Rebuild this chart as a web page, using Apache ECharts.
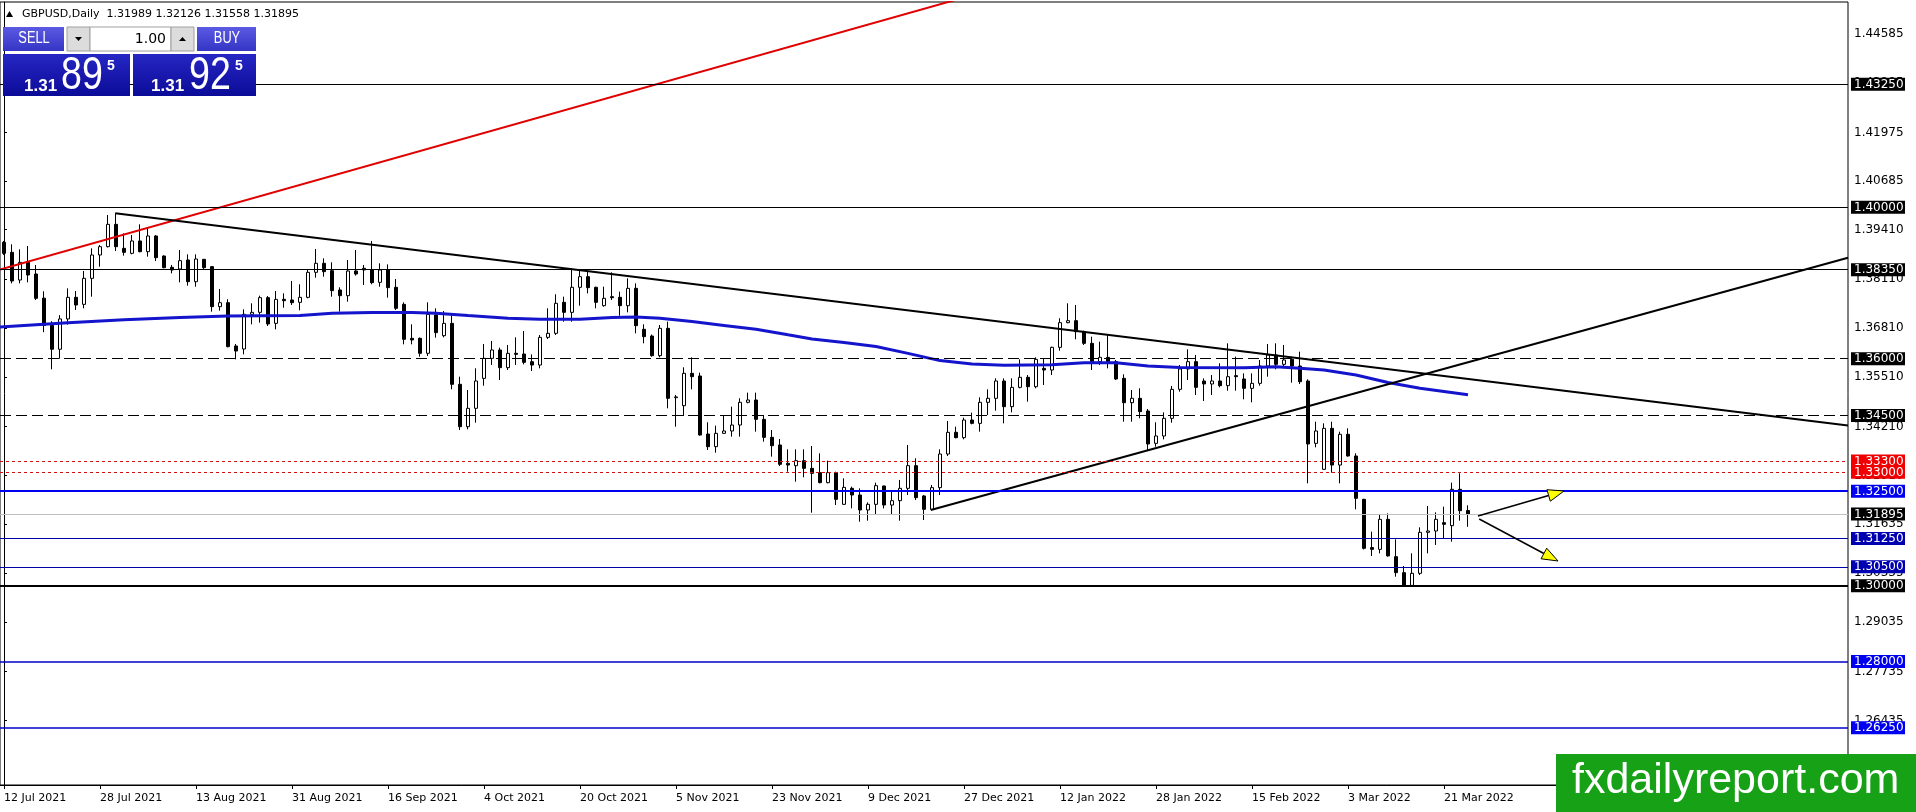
<!DOCTYPE html>
<html>
<head>
<meta charset="utf-8">
<title>GBPUSD,Daily</title>
<script src="https://cdn.jsdelivr.net/npm/echarts@6/dist/echarts.min.js"></script>
<style>
  html, body { margin: 0; padding: 0; background: #fff; }
  #main { width: 1916px; height: 812px; }
</style>
</head>
<body>
<div id="main"></div>
<script>
// daily bars, 12 Jul 2021 .. 24 Mar 2022
var opens = [
  1.39074, 1.38810, 1.38079, 1.38546, 1.38238, 1.37600, 1.36880, 1.36250, 1.37050, 1.37621,
  1.37436, 1.38123, 1.38740, 1.38960, 1.39550, 1.38916, 1.38784, 1.39110, 1.38828, 1.39242,
  1.38713, 1.38414, 1.38370, 1.38608, 1.38035, 1.38625, 1.38432, 1.37375, 1.37480, 1.36336,
  1.36256, 1.37172, 1.37225, 1.37613, 1.36934, 1.37569, 1.37551, 1.37489, 1.37621, 1.38282,
  1.38520, 1.38326, 1.37815, 1.37665, 1.38317, 1.38388, 1.38344, 1.38018, 1.38344, 1.37886,
  1.37436, 1.36538, 1.36538, 1.36142, 1.37155, 1.36608, 1.36934, 1.35323, 1.34204, 1.34689,
  1.35480, 1.36010, 1.36230, 1.35763, 1.36142, 1.36124, 1.35921, 1.35833, 1.36564, 1.36670,
  1.37489, 1.37225, 1.37886, 1.38167, 1.37886, 1.37401, 1.37639, 1.37621, 1.37401, 1.37859,
  1.36776, 1.36600, 1.36080, 1.36802, 1.34970, 1.34759, 1.35613, 1.35543, 1.34010, 1.33676,
  1.34028, 1.34090, 1.34248, 1.34847, 1.34909, 1.34398, 1.33922, 1.33720, 1.33235, 1.33174,
  1.33306, 1.33103, 1.32989, 1.32725, 1.32989, 1.32152, 1.32575, 1.32399, 1.32003, 1.32152,
  1.32637, 1.32134, 1.32249, 1.32575, 1.33174, 1.32373, 1.32020, 1.32593, 1.33482, 1.34055,
  1.33914, 1.34380, 1.34292, 1.34847, 1.34953, 1.35411, 1.34733, 1.35243, 1.35508, 1.35261,
  1.35745, 1.35701, 1.36300, 1.36952, 1.37005, 1.36714, 1.36406, 1.35922, 1.36036, 1.35922,
  1.35481, 1.34838, 1.34953, 1.34618, 1.33764, 1.33958, 1.34424, 1.35190, 1.35728, 1.35922,
  1.35411, 1.35332, 1.35411, 1.35288, 1.35552, 1.35464, 1.35217, 1.35349, 1.35807, 1.36098,
  1.35851, 1.35983, 1.35807, 1.35411, 1.33764, 1.33077, 1.34160, 1.33191, 1.34002, 1.33429,
  1.32284, 1.31010, 1.30963, 1.31756, 1.30770, 1.30347, 1.30010, 1.30329, 1.31413, 1.31448,
  1.31668, 1.31589, 1.32549, 1.31989
];
var highs = [
  1.39110, 1.39022, 1.38889, 1.38977, 1.38476, 1.37780, 1.36990, 1.37150, 1.37859, 1.37788,
  1.38317, 1.38916, 1.39004, 1.39797, 1.39841, 1.39312, 1.39268, 1.39550, 1.39462, 1.39268,
  1.38730, 1.38476, 1.38872, 1.38757, 1.38757, 1.38634, 1.38450, 1.37841, 1.37570, 1.36388,
  1.37304, 1.37463, 1.37665, 1.37657, 1.37789, 1.37727, 1.38053, 1.37965, 1.38344, 1.38898,
  1.38652, 1.38546, 1.37886, 1.38608, 1.38872, 1.38476, 1.39110, 1.38520, 1.38493, 1.38106,
  1.37489, 1.36908, 1.36560, 1.37489, 1.37331, 1.37260, 1.37155, 1.35525, 1.35173, 1.35746,
  1.36388, 1.36468, 1.36291, 1.36362, 1.36564, 1.36732, 1.36115, 1.36626, 1.37331, 1.37701,
  1.37639, 1.38388, 1.38317, 1.38317, 1.37903, 1.37903, 1.38282, 1.37771, 1.38123, 1.37991,
  1.36908, 1.36640, 1.36890, 1.36978, 1.35041, 1.35772, 1.36036, 1.35631, 1.34319, 1.34231,
  1.34513, 1.34733, 1.34953, 1.35103, 1.35103, 1.34513, 1.34116, 1.33878, 1.33605, 1.33605,
  1.33605, 1.33694, 1.33500, 1.33306, 1.33015, 1.32839, 1.32619, 1.32575, 1.32205, 1.32725,
  1.32646, 1.32505, 1.32795, 1.33719, 1.33368, 1.32399, 1.32663, 1.33605, 1.34354, 1.34204,
  1.34442, 1.34574, 1.34980, 1.35191, 1.35481, 1.35481, 1.35481, 1.35983, 1.35569, 1.36036,
  1.36010, 1.36318, 1.37067, 1.37463, 1.37419, 1.36741, 1.36582, 1.36450, 1.36626, 1.35966,
  1.35587, 1.35173, 1.35217, 1.34671, 1.34319, 1.34583, 1.35279, 1.35834, 1.36247, 1.36098,
  1.35481, 1.35569, 1.35878, 1.36406, 1.36054, 1.35613, 1.35613, 1.35966, 1.36388, 1.36406,
  1.36362, 1.36054, 1.36186, 1.35455, 1.34336, 1.34292, 1.34336, 1.34072, 1.34160, 1.33500,
  1.32300, 1.31430, 1.31871, 1.31915, 1.31227, 1.30523, 1.30858, 1.31544, 1.32108, 1.31941,
  1.32090, 1.32725, 1.32972, 1.32126
];
var lows = [
  1.38740, 1.37991, 1.37991, 1.38017, 1.37551, 1.36700, 1.35720, 1.36000, 1.36900, 1.37287,
  1.37331, 1.37639, 1.38431, 1.38940, 1.38846, 1.38722, 1.38757, 1.38810, 1.38696, 1.38581,
  1.38387, 1.38255, 1.38017, 1.37930, 1.37903, 1.38370, 1.37243, 1.37269, 1.36300, 1.35983,
  1.36115, 1.36908, 1.36952, 1.36864, 1.36776, 1.37348, 1.37419, 1.37278, 1.37595, 1.38141,
  1.38167, 1.37639, 1.37243, 1.37507, 1.38194, 1.37947, 1.37965, 1.37903, 1.37613, 1.37287,
  1.36380, 1.36380, 1.36054, 1.36071, 1.36556, 1.36564, 1.35191, 1.34116, 1.34134, 1.34310,
  1.35287, 1.35834, 1.35437, 1.35701, 1.35834, 1.35851, 1.35675, 1.35745, 1.36520, 1.36626,
  1.36978, 1.36978, 1.37401, 1.37727, 1.37331, 1.37375, 1.37551, 1.37137, 1.37225, 1.36670,
  1.36406, 1.36054, 1.36036, 1.34689, 1.34204, 1.34486, 1.35191, 1.33966, 1.33588, 1.33517,
  1.34010, 1.33940, 1.33940, 1.34821, 1.34072, 1.33808, 1.33412, 1.33165, 1.33015, 1.32751,
  1.32866, 1.31932, 1.32707, 1.32707, 1.32134, 1.32134, 1.32046, 1.31694, 1.31721, 1.31870,
  1.32046, 1.31888, 1.31721, 1.32399, 1.32267, 1.31738, 1.32003, 1.32399, 1.33429, 1.33896,
  1.33870, 1.34266, 1.34072, 1.34513, 1.34627, 1.34292, 1.34583, 1.35217, 1.34865, 1.35217,
  1.35305, 1.35569, 1.36212, 1.36935, 1.36512, 1.36362, 1.35701, 1.35833, 1.35745, 1.35437,
  1.34336, 1.34336, 1.34425, 1.33588, 1.33676, 1.33870, 1.34310, 1.35129, 1.35437, 1.35041,
  1.34882, 1.35041, 1.35243, 1.35155, 1.35155, 1.34927, 1.34847, 1.35287, 1.35525, 1.35719,
  1.35746, 1.35367, 1.35332, 1.32707, 1.33658, 1.33059, 1.32989, 1.32707, 1.33412, 1.32020,
  1.30960, 1.30787, 1.30858, 1.30770, 1.30241, 1.29995, 1.29995, 1.30285, 1.30858, 1.31078,
  1.31254, 1.31166, 1.31721, 1.31558
];
var closes = [
  1.38784, 1.38053, 1.38546, 1.38211, 1.37595, 1.36880, 1.36250, 1.37050, 1.37621, 1.37419,
  1.38123, 1.38740, 1.38960, 1.39550, 1.38960, 1.38810, 1.39110, 1.38828, 1.39242, 1.38669,
  1.38405, 1.38343, 1.38590, 1.38035, 1.38634, 1.38405, 1.37375, 1.37480, 1.36318, 1.36203,
  1.37172, 1.37225, 1.37613, 1.36917, 1.37568, 1.37533, 1.37480, 1.37621, 1.38282, 1.38520,
  1.38300, 1.37798, 1.37665, 1.38317, 1.38238, 1.38344, 1.38009, 1.38344, 1.37877, 1.37331,
  1.36512, 1.36494, 1.36142, 1.37172, 1.36688, 1.36934, 1.35323, 1.34204, 1.34689, 1.35411,
  1.36010, 1.36230, 1.35763, 1.36142, 1.36115, 1.35904, 1.35833, 1.36564, 1.36670, 1.37463,
  1.37225, 1.37886, 1.38167, 1.37877, 1.37489, 1.37595, 1.37612, 1.37401, 1.37859, 1.36873,
  1.36582, 1.36080, 1.36802, 1.34953, 1.34990, 1.35613, 1.35525, 1.33984, 1.33676, 1.34028,
  1.34090, 1.34248, 1.34847, 1.34909, 1.34398, 1.33922, 1.33702, 1.33209, 1.33191, 1.33306,
  1.33103, 1.32971, 1.32725, 1.32989, 1.32284, 1.32601, 1.32399, 1.32003, 1.32152, 1.32646,
  1.32134, 1.32249, 1.32575, 1.33174, 1.32329, 1.32020, 1.32593, 1.33482, 1.34055, 1.33914,
  1.34380, 1.34292, 1.34847, 1.34953, 1.35411, 1.34733, 1.35243, 1.35508, 1.35261, 1.35983,
  1.35701, 1.36300, 1.36952, 1.37005, 1.36714, 1.36406, 1.35922, 1.36036, 1.35922, 1.35464,
  1.34838, 1.34953, 1.34601, 1.33746, 1.33958, 1.34424, 1.35190, 1.35728, 1.35922, 1.35243,
  1.35332, 1.35411, 1.35288, 1.35525, 1.35525, 1.35217, 1.35349, 1.35807, 1.36098, 1.35851,
  1.35966, 1.35807, 1.35393, 1.33746, 1.34090, 1.34160, 1.33191, 1.34002, 1.33429, 1.32311,
  1.30990, 1.30963, 1.31756, 1.30790, 1.30347, 1.30010, 1.30329, 1.31413, 1.31448, 1.31756,
  1.31624, 1.32549, 1.31985, 1.31895
];

// moving average, read at a few bars
var maBars   = [-1, 8, 15, 22, 28, 37, 41, 46, 51, 54, 58, 63, 67, 72, 76, 79, 82, 86, 90, 94,
                98, 101, 105, 109, 113, 117, 121, 125, 131, 135, 139, 143, 147, 155, 159, 162, 165, 169, 173, 177, 183];
var maValues = [1.3683, 1.3695, 1.3703, 1.3709, 1.3713, 1.3714, 1.3720, 1.3722, 1.3722, 1.3720,
                1.3714, 1.3707, 1.3704, 1.3704, 1.3709, 1.3710, 1.3707, 1.3698, 1.3688, 1.3678,
                1.3663, 1.3652, 1.3643, 1.3632, 1.3614, 1.3595, 1.3586, 1.3583, 1.3584, 1.3589,
                1.3589, 1.3581, 1.3577, 1.3576, 1.3579, 1.3575, 1.3570, 1.3557, 1.3537, 1.3522, 1.3505];

// trend lines [bar, price]
var redLine   = [[-0.5, 1.38357], [118.9, 1.45477]];
var downTrend = [[13.9, 1.39841], [230.5, 1.34238]];
var upTrend   = [[115.85, 1.32003], [230.5, 1.38668]];
// arrows [bar1, price1, bar2, price2]
var arrows = [[184.25, 1.31844, 195.0, 1.32505], [184.4, 1.31765, 194.25, 1.30655]];

// horizontal levels
var solidBlack  = [1.43250, 1.40000, 1.38350];
var dashedBlack = [1.36000, 1.34500];
var dottedRed   = [1.33300, 1.33000];
var blueMain    = [1.32500];
var blueThin    = [1.31250, 1.30500];
var blueLow     = [1.28000, 1.26250];
var floorLevel  = [1.30000];
var askPrice = 1.31925;

// price scale labels
var gridPrices = [1.44585, 1.43285, 1.41975, 1.40685, 1.39410, 1.38110, 1.36810, 1.35510,
                  1.34210, 1.32910, 1.31635, 1.30335, 1.29035, 1.27735, 1.26435];
var dateLabels = ['12 Jul 2021', '28 Jul 2021', '13 Aug 2021', '31 Aug 2021', '16 Sep 2021',
                  '4 Oct 2021', '20 Oct 2021', '5 Nov 2021', '23 Nov 2021', '9 Dec 2021',
                  '27 Dec 2021', '12 Jan 2022', '28 Jan 2022', '15 Feb 2022', '3 Mar 2022', '21 Mar 2022'];
var labelEvery = 12;

var totalSlots = 231;
var priceMin = 1.24737, priceMax = 1.45424;
var last = closes.length - 1;
var bidPrice = closes[last];

var categories = [];
for (var i = 0; i < totalSlots; i++) categories.push(String(i));

var candles = [];
for (var j = 0; j < opens.length; j++) {
  candles.push([opens[j], closes[j], lows[j], highs[j]]);
}

var maData = [];
for (var m = 0; m < maBars.length; m++) maData.push([maBars[m], maValues[m]]);

function showDate(index) {
  return index % labelEvery === 0 && index / labelEvery < dateLabels.length;
}
function dateText(value, index) {
  return showDate(index) ? dateLabels[index / labelEvery] : '';
}

// level lines + which label box goes with them
var levelLines = [];
var boxPrices = [];
var boxKind = {};
function addLevels(list, style, kind) {
  list.forEach(function (v) {
    levelLines.push({ yAxis: v, lineStyle: style });
    boxPrices.push(v);
    boxKind[v.toFixed(5)] = kind;
  });
}
addLevels([bidPrice], { color: '#c0c0c0', width: 1, type: 'solid' }, 'k');
addLevels(solidBlack, { color: '#000', width: 1, type: 'solid' }, 'k');
addLevels(dashedBlack, { color: '#000', width: 1, type: [11, 5] }, 'k');
addLevels(dottedRed, { color: '#d01010', width: 1, type: [3, 3] }, 'r');
addLevels(blueMain, { color: '#0000f0', width: 2, type: 'solid' }, 'b');
addLevels(blueThin, { color: '#0000a8', width: 1, type: 'solid' }, 'n');
addLevels(blueLow, { color: '#0000c8', width: 1.5, type: 'solid' }, 'b');
addLevels(floorLevel, { color: '#000', width: 2, type: 'solid' }, 'k');

function boxText(v) {
  var key = v.toFixed(5);
  return '{' + (boxKind[key] || 'k') + '|' + key + '}';
}

var boxBase = { color: '#fff', fontSize: 12, fontFamily: 'DejaVu Sans', lineHeight: 12, padding: [1, 2, 0, 3], width: 49 };
function boxStyle(bg) {
  var s = {};
  for (var p in boxBase) s[p] = boxBase[p];
  s.backgroundColor = bg;
  return s;
}

function renderArrow(params, api) {
  var a = api.coord([api.value(0), api.value(1)]);
  var b = api.coord([api.value(2), api.value(3)]);
  var dx = b[0] - a[0], dy = b[1] - a[1];
  var len = Math.sqrt(dx * dx + dy * dy);
  var ux = dx / len, uy = dy / len;
  var headLen = 16, half = 6;
  var bx = b[0] - ux * headLen, by = b[1] - uy * headLen;
  return {
    type: 'group',
    children: [
      { type: 'line', shape: { x1: a[0], y1: a[1], x2: bx, y2: by }, style: { stroke: '#000', lineWidth: 1.5 } },
      { type: 'polygon',
        shape: { points: [[b[0], b[1]], [bx - uy * half, by + ux * half], [bx + uy * half, by - ux * half]] },
        style: { fill: '#ffff00', stroke: '#000', lineWidth: 1 } }
    ]
  };
}

// one click trading panel + header
var bidStr = bidPrice.toFixed(5), askStr = askPrice.toFixed(5);
var btnFill = new echarts.graphic.LinearGradient(0, 0, 0, 1, [{ offset: 0, color: '#5a5ae2' }, { offset: 1, color: '#3535c6' }]);
function boxFill() {
  return new echarts.graphic.LinearGradient(0, 0, 0, 1, [{ offset: 0, color: '#2626c4' }, { offset: 1, color: '#0b0b98' }]);
}
var ui = [
  { type: 'polygon', shape: { points: [[6, 17], [13, 17], [9.5, 11]] }, style: { fill: '#000' } },
  { type: 'text', x: 22, y: 14, style: { text: 'GBPUSD,Daily  ' + opens[last].toFixed(5) + ' ' + highs[last].toFixed(5) + ' ' + lows[last].toFixed(5) + ' ' + closes[last].toFixed(5),
      fill: '#000', fontSize: 11, fontFamily: 'DejaVu Sans', verticalAlign: 'middle' } },
  { type: 'rect', shape: { x: 3, y: 27, width: 61, height: 24 }, style: { fill: btnFill } },
  { type: 'text', x: 34, y: 39, scaleX: 0.8, style: { text: 'SELL', fill: '#fff', fontSize: 16, fontFamily: 'Liberation Sans', align: 'center', verticalAlign: 'middle' } },
  { type: 'rect', shape: { x: 67, y: 27, width: 23, height: 24 }, style: { fill: '#dcdcdc', stroke: '#a0a0a0', lineWidth: 1 } },
  { type: 'polygon', shape: { points: [[75, 37], [82, 37], [78.5, 41]] }, style: { fill: '#000' } },
  { type: 'rect', shape: { x: 90, y: 27, width: 81, height: 24 }, style: { fill: '#fff', stroke: '#a0a0a0', lineWidth: 1 } },
  { type: 'text', x: 166, y: 39, style: { text: '1.00', fill: '#000', fontSize: 14, fontFamily: 'DejaVu Sans', align: 'right', verticalAlign: 'middle' } },
  { type: 'rect', shape: { x: 171, y: 27, width: 23, height: 24 }, style: { fill: '#dcdcdc', stroke: '#a0a0a0', lineWidth: 1 } },
  { type: 'polygon', shape: { points: [[179, 41], [186, 41], [182.5, 37]] }, style: { fill: '#000' } },
  { type: 'rect', shape: { x: 197, y: 27, width: 59, height: 24 }, style: { fill: btnFill } },
  { type: 'text', x: 227, y: 39, scaleX: 0.8, style: { text: 'BUY', fill: '#fff', fontSize: 16, fontFamily: 'Liberation Sans', align: 'center', verticalAlign: 'middle' } },
  { type: 'rect', shape: { x: 3, y: 54, width: 127, height: 42 }, style: { fill: boxFill() } },
  { type: 'rect', shape: { x: 133, y: 54, width: 123, height: 42 }, style: { fill: boxFill() } },
  { type: 'text', x: 24, y: 86, style: { text: bidStr.slice(0, 4), fill: '#fff', fontSize: 17, fontWeight: 'bold', fontFamily: 'Liberation Sans', verticalAlign: 'middle' } },
  { type: 'text', x: 61, y: 76, scaleX: 0.8, style: { text: bidStr.slice(4, 6), fill: '#fff', fontSize: 47, fontFamily: 'Liberation Sans', verticalAlign: 'middle' } },
  { type: 'text', x: 107, y: 66, style: { text: bidStr.slice(6), fill: '#fff', fontSize: 14, fontWeight: 'bold', fontFamily: 'Liberation Sans', verticalAlign: 'middle' } },
  { type: 'text', x: 151, y: 86, style: { text: askStr.slice(0, 4), fill: '#fff', fontSize: 17, fontWeight: 'bold', fontFamily: 'Liberation Sans', verticalAlign: 'middle' } },
  { type: 'text', x: 189, y: 76, scaleX: 0.8, style: { text: askStr.slice(4, 6), fill: '#fff', fontSize: 47, fontFamily: 'Liberation Sans', verticalAlign: 'middle' } },
  { type: 'text', x: 235, y: 66, style: { text: askStr.slice(6), fill: '#fff', fontSize: 14, fontWeight: 'bold', fontFamily: 'Liberation Sans', verticalAlign: 'middle' } },
  // watermark
  { type: 'rect', shape: { x: 1556, y: 754, width: 360, height: 58 }, style: { fill: '#16a116' } },
  { type: 'text', x: 1572, y: 781, style: { text: 'fxdailyreport.com', fill: '#fff', fontSize: 43, fontFamily: 'Liberation Sans', verticalAlign: 'middle' } }
];
ui.forEach(function (el) { el.z = 100; el.silent = true; });

var myChart = echarts.init(document.getElementById('main'));
var option = {
  animation: false,
  backgroundColor: '#ffffff',
  textStyle: { fontFamily: 'DejaVu Sans' },
  grid: {
    left: 0, top: 2, width: 1848, height: 783,
    show: true, borderColor: '#000', borderWidth: 1, backgroundColor: '#fff',
    outerBoundsMode: 'none'
  },
  xAxis: [{
    type: 'category',
    data: categories,
    boundaryGap: true,
    axisLine: { lineStyle: { color: '#000', width: 1 } },
    axisTick: { show: true, alignWithLabel: true, interval: showDate, length: 4, lineStyle: { color: '#000' } },
    axisLabel: { interval: showDate, formatter: dateText, align: 'left', color: '#000', fontSize: 11, margin: 8, fontFamily: 'DejaVu Sans' },
    splitLine: { show: false }
  }, {
    type: 'value', min: -0.5, max: totalSlots - 0.5, show: false
  }],
  yAxis: [{
    type: 'value', position: 'right', min: priceMin, max: priceMax,
    splitLine: { show: false },
    axisLine: { show: true, lineStyle: { color: '#000' } },
    axisTick: { show: true, customValues: gridPrices, length: 3, lineStyle: { color: '#000' } },
    axisLabel: {
      customValues: gridPrices, color: '#000', fontSize: 12, margin: 6, fontFamily: 'DejaVu Sans',
      formatter: function (v) { return v.toFixed(5); }
    }
  }, {
    type: 'value', position: 'right', min: priceMin, max: priceMax,
    splitLine: { show: false },
    axisLine: { show: false },
    axisTick: { show: false },
    axisLabel: {
      customValues: boxPrices, margin: 3, formatter: boxText,
      rich: { k: boxStyle('#000000'), r: boxStyle('#f00000'), b: boxStyle('#0000f0'), n: boxStyle('#0000b0') }
    }
  }],
  series: [{
    name: 'GBPUSD',
    type: 'candlestick',
    xAxisIndex: 0, yAxisIndex: 0,
    data: candles,
    barWidth: 4,
    z: 2,
    itemStyle: {
      color: '#ffffff', color0: '#000000',
      borderColor: '#000000', borderColor0: '#000000', borderColorDoji: '#000000',
      borderWidth: 1
    }
  }, {
    name: 'MA',
    type: 'line',
    xAxisIndex: 1, yAxisIndex: 0,
    data: maData,
    showSymbol: false,
    z: 3,
    lineStyle: { color: '#1414cc', width: 3 },
    markLine: {
      silent: true, symbol: ['none', 'none'], animation: false, precision: 5,
      label: { show: false }, emphasis: { disabled: true },
      data: levelLines
    }
  }, {
    type: 'line', xAxisIndex: 1, yAxisIndex: 0, data: redLine, showSymbol: false, z: 4,
    lineStyle: { color: '#e00000', width: 2 }
  }, {
    type: 'line', xAxisIndex: 1, yAxisIndex: 0, data: downTrend, showSymbol: false, z: 4,
    lineStyle: { color: '#000', width: 2 }
  }, {
    type: 'line', xAxisIndex: 1, yAxisIndex: 0, data: upTrend, showSymbol: false, z: 4,
    lineStyle: { color: '#000', width: 2 }
  }, {
    type: 'custom', xAxisIndex: 1, yAxisIndex: 0, data: arrows, z: 5,
    encode: { x: [0, 2], y: [1, 3] },
    renderItem: renderArrow
  }],
  graphic: ui
};
myChart.setOption(option);
</script>
</body>
</html>
